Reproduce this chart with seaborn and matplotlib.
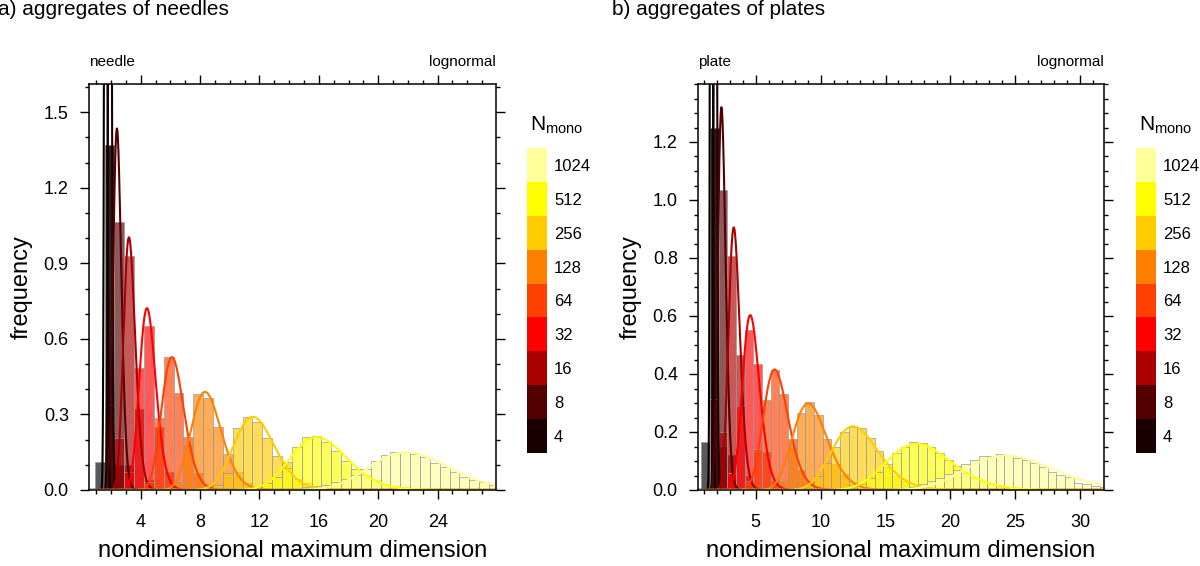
"""Size distributions of needle and plate aggregates with lognormal fits."""

import matplotlib

matplotlib.use("Agg")

import matplotlib.pyplot as plt
import numpy as np
import pandas as pd
import seaborn as sns
from matplotlib.cm import ScalarMappable
from matplotlib.colors import BoundaryNorm, ListedColormap
from matplotlib.ticker import FormatStrFormatter, MultipleLocator

sns.set_theme(style="ticks")
plt.rcParams["font.family"] = ["Liberation Sans", "DejaVu Sans"]
plt.rcParams["mathtext.fontset"] = "custom"
plt.rcParams["mathtext.rm"] = "Liberation Sans"
for key in ("text.color", "axes.labelcolor", "xtick.color", "ytick.color"):
    plt.rcParams[key] = "black"

N_MONO = [2, 4, 8, 16, 32, 64, 128, 256, 512, 1024]
SERIES_COLORS = ["#000000", "#1a0000", "#550000", "#aa0000", "#ff0000",
                 "#ff4000", "#ff8000", "#ffcc00", "#ffff00", "#ffff99"]
LEGEND_N = [4, 8, 16, 32, 64, 128, 256, 512, 1024]
LEGEND_COLORS = SERIES_COLORS[1:]

# ---- a) needles: shared bins, first bin index of each series, bar heights
NEEDLE_BIN_START = 0.90
NEEDLE_BIN_WIDTH = 0.664
NEEDLE_N_BINS = 41
needle_first_bin = [0, 1, 1, 2, 3, 5, 8, 12, 16, 20]
needle_freq_2 = [0.11, 1.37]
needle_freq_4 = [1.37, 0.10]
needle_freq_8 = [0.336, 1.064, 0.10]
needle_freq_16 = [0.206, 0.93, 0.323, 0.04]
needle_freq_32 = [0.07, 0.483, 0.652, 0.25, 0.07]
needle_freq_64 = [0.03, 0.286, 0.529, 0.386, 0.209, 0.066, 0.02]
needle_freq_128 = [0.03, 0.18, 0.382, 0.367, 0.25, 0.144, 0.07, 0.027, 0.01]
needle_freq_256 = [0.02, 0.067, 0.247, 0.29, 0.27, 0.207, 0.136, 0.113,
                   0.043, 0.027, 0.01]
needle_freq_512 = [0.01, 0.027, 0.053, 0.087, 0.17, 0.21, 0.213, 0.19, 0.153,
                   0.117, 0.083, 0.06, 0.04, 0.025, 0.015, 0.01]
needle_freq_1024 = [0.005, 0.01, 0.015, 0.02, 0.03, 0.045, 0.06, 0.083, 0.116,
                    0.14, 0.152, 0.151, 0.144, 0.131, 0.108, 0.09, 0.071,
                    0.053, 0.04, 0.03, 0.02]
# lognormal fit parameters
needle_mu = [0.497, 0.66, 0.889, 1.181, 1.502, 1.824, 2.135, 2.460, 2.778, 3.101]
needle_sigma = [0.05, 0.05, 0.115, 0.123, 0.124, 0.123, 0.122, 0.118, 0.119, 0.121]

# ---- b) plates
PLATE_BIN_START = 0.82
PLATE_BIN_WIDTH = 0.667
PLATE_N_BINS = 47
plate_first_bin = [0, 1, 1, 2, 3, 5, 9, 12, 18, 24]
plate_freq_2 = [0.165, 1.247]
plate_freq_4 = [1.247, 0.148]
plate_freq_8 = [0.315, 1.033, 0.12]
plate_freq_16 = [0.2, 0.807, 0.467, 0.05]
plate_freq_32 = [0.06, 0.29, 0.551, 0.433, 0.13, 0.03]
plate_freq_64 = [0.03, 0.142, 0.309, 0.413, 0.332, 0.176, 0.07, 0.03]
plate_freq_128 = [0.03, 0.15, 0.265, 0.302, 0.26, 0.176, 0.09, 0.055, 0.02]
plate_freq_256 = [0.02, 0.05, 0.092, 0.148, 0.2, 0.217, 0.213, 0.178, 0.133,
                  0.08, 0.05, 0.03, 0.015]
plate_freq_512 = [0.02, 0.04, 0.061, 0.09, 0.127, 0.15, 0.165, 0.161, 0.148,
                  0.129, 0.104, 0.083, 0.06, 0.04, 0.03, 0.02, 0.01]
plate_freq_1024 = [0.01, 0.02, 0.03, 0.04, 0.055, 0.07, 0.09, 0.104, 0.118,
                   0.116, 0.123, 0.121, 0.11, 0.104, 0.092, 0.081, 0.063,
                   0.052, 0.046, 0.025, 0.021, 0.014, 0.01]
plate_mu = [0.46, 0.639, 0.875, 1.214, 1.542, 1.887, 2.224, 2.547, 2.876, 3.209]
plate_sigma = [0.05, 0.05, 0.127, 0.132, 0.143, 0.147, 0.146, 0.144, 0.143, 0.137]


def lognormal_pdf(x, mu, sigma):
    return np.exp(-(np.log(x) - mu) ** 2 / (2 * sigma ** 2)) / (x * sigma * np.sqrt(2 * np.pi))


def draw_panel(ax, edges, first_bins, freqs, mus, sigmas, xlim, ylim):
    width = edges[1] - edges[0]
    centers = edges[:-1] + width / 2
    for color, first, freq in zip(SERIES_COLORS, first_bins, freqs):
        idx = np.arange(first, first + len(freq))
        bars = pd.DataFrame({"size": centers[idx], "freq": freq})
        sns.histplot(data=bars, x="size", weights="freq",
                     bins=list(edges[first:first + len(freq) + 1]), stat="count",
                     color=color, alpha=0.65, edgecolor="#9a9a9a",
                     linewidth=0.5, ax=ax)
    xs = np.linspace(xlim[0], xlim[1], 6000)
    for color, mu, sigma in zip(SERIES_COLORS, mus, sigmas):
        curve = pd.DataFrame({"size": xs, "pdf": lognormal_pdf(xs, mu, sigma)})
        sns.lineplot(data=curve, x="size", y="pdf", color=color, lw=1.5,
                     estimator=None, ax=ax)
    ax.set_xlim(*xlim)
    ax.set_ylim(*ylim)
    ax.set_xlabel("nondimensional maximum dimension", fontsize=17)
    ax.xaxis.set_label_coords(0.5, -0.123)
    ax.set_ylabel("frequency", fontsize=17, labelpad=8)
    ax.tick_params(which="both", direction="out", top=True, right=True,
                   labeltop=False, labelright=False, width=1.0, color="black")
    ax.tick_params(which="major", length=6.5, labelsize=13)
    ax.tick_params(axis="x", which="major", pad=11)
    ax.tick_params(axis="y", which="major", pad=8)
    ax.tick_params(which="minor", length=3.2)
    for spine in ax.spines.values():
        spine.set_visible(True)
        spine.set_linewidth(1.1)
        spine.set_color("black")


def add_labelbar(fig, left):
    cax = fig.add_axes([left / 1200, 1 - 453 / 566, 20 / 1200, 305 / 566])
    cmap = ListedColormap(LEGEND_COLORS)
    norm = BoundaryNorm(np.arange(len(LEGEND_N) + 1), cmap.N)
    cb = fig.colorbar(ScalarMappable(norm=norm, cmap=cmap), cax=cax,
                      ticks=np.arange(len(LEGEND_N)) + 0.5)
    cb.set_ticklabels([str(n) for n in LEGEND_N])
    cb.outline.set_visible(False)
    cax.minorticks_off()
    cax.tick_params(which="both", length=0, pad=5, labelsize=12)
    fig.text((left + 30) / 1200, 1 - 125 / 566, r"N$_{\mathrm{mono}}$",
             fontsize=15, ha="center", va="center")


def main():
    fig = plt.figure(figsize=(12, 5.66), dpi=100)
    ax1 = fig.add_axes([89 / 1200, 1 - 490 / 566, 407 / 1200, 406 / 566])
    ax2 = fig.add_axes([698 / 1200, 1 - 490 / 566, 406 / 1200, 406 / 566])

    needle_edges = NEEDLE_BIN_START + NEEDLE_BIN_WIDTH * np.arange(NEEDLE_N_BINS + 1)
    needle_freqs = [needle_freq_2, needle_freq_4, needle_freq_8, needle_freq_16,
                    needle_freq_32, needle_freq_64, needle_freq_128, needle_freq_256,
                    needle_freq_512, needle_freq_1024]
    draw_panel(ax1, needle_edges, needle_first_bin, needle_freqs, needle_mu,
               needle_sigma, (0.52, 27.93), (0, 1.612))
    ax1.set_xticks([4, 8, 12, 16, 20, 24])
    ax1.xaxis.set_minor_locator(MultipleLocator(1))
    ax1.set_yticks([0.0, 0.3, 0.6, 0.9, 1.2, 1.5])
    ax1.yaxis.set_minor_locator(MultipleLocator(0.1))
    ax1.yaxis.set_major_formatter(FormatStrFormatter("%.1f"))

    plate_edges = PLATE_BIN_START + PLATE_BIN_WIDTH * np.arange(PLATE_N_BINS + 1)
    plate_freqs = [plate_freq_2, plate_freq_4, plate_freq_8, plate_freq_16,
                   plate_freq_32, plate_freq_64, plate_freq_128, plate_freq_256,
                   plate_freq_512, plate_freq_1024]
    draw_panel(ax2, plate_edges, plate_first_bin, plate_freqs, plate_mu,
               plate_sigma, (0.556, 31.83), (0, 1.4))
    ax2.set_xticks([5, 10, 15, 20, 25, 30])
    ax2.xaxis.set_minor_locator(MultipleLocator(1))
    ax2.set_yticks([0.0, 0.2, 0.4, 0.6, 0.8, 1.0, 1.2])
    ax2.yaxis.set_minor_locator(MultipleLocator(0.05))
    ax2.yaxis.set_major_formatter(FormatStrFormatter("%.1f"))

    for ax, kind in ((ax1, "needle"), (ax2, "plate")):
        ax.text(0.0, 1.045, kind, transform=ax.transAxes, fontsize=11,
                ha="left", va="baseline")
        ax.text(1.0, 1.045, "lognormal", transform=ax.transAxes, fontsize=11,
                ha="right", va="baseline")

    fig.text(-2 / 1200, 1 - 15 / 566, "a) aggregates of needles", fontsize=15,
             ha="left", va="baseline")
    fig.text(612 / 1200, 1 - 15 / 566, "b) aggregates of plates", fontsize=15,
             ha="left", va="baseline")

    add_labelbar(fig, 527)
    add_labelbar(fig, 1136)

    fig.savefig("out.png", dpi=100)
    plt.close(fig)


if __name__ == "__main__":
    main()
